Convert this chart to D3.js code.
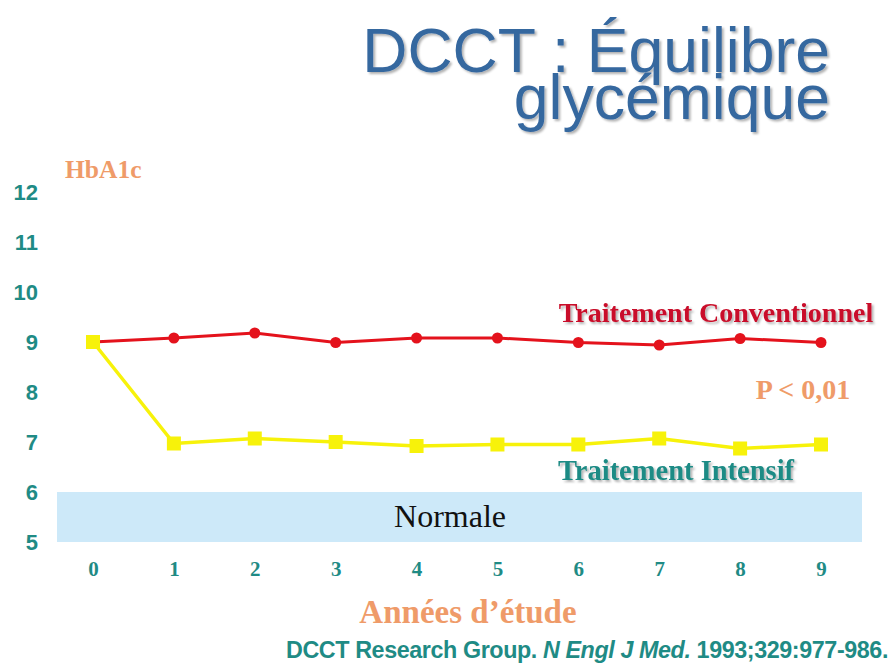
<!DOCTYPE html>
<html>
<head>
<meta charset="utf-8">
<script src="https://cdn.jsdelivr.net/npm/d3@7"></script>
<style>
  body { margin: 0; background: #fff; }
  svg { display: block; }
</style>
</head>
<body>
<div id="chart"></div>
<script>
// data
let years = [0, 1, 2, 3, 4, 5, 6, 7, 8, 9]
let conventionnel = [9.0, 9.08, 9.18, 8.99, 9.08, 9.08, 8.99, 8.94, 9.07, 8.99]
let intensif = [9.0, 6.97, 7.07, 7.0, 6.92, 6.95, 6.95, 7.07, 6.87, 6.95]
let yTicks = [5, 6, 7, 8, 9, 10, 11, 12]
let normalRange = [5, 6]

let width = 893
let height = 665

let teal = '#1f8b85'
let orange = '#ef9b69'

let svg = d3.select('#chart')
  .append('svg')
  .attr('width', width)
  .attr('height', height)

let defs = svg.append('defs')
let shadow = defs.append('filter').attr('id', 'shadow')
  .attr('x', '-5%').attr('y', '-5%').attr('width', '110%').attr('height', '120%')
shadow.append('feDropShadow')
  .attr('dx', 2).attr('dy', 2).attr('stdDeviation', 1.2)
  .attr('flood-color', '#000').attr('flood-opacity', 0.3)

let xScale = d3.scaleLinear().domain([0, 9]).range([93, 821])
let yScale = d3.scaleLinear().domain([5, 12]).range([542, 192])

// title
let title = svg.append('g')
  .attr('font-family', 'Liberation Sans, Arial, sans-serif')
  .attr('font-size', 62.5)
  .attr('fill', '#36679f')
  .attr('text-anchor', 'end')
  .attr('filter', 'url(#shadow)')
title.append('text').attr('x', 830).attr('y', 72).text('DCCT : Équilibre')
title.append('text').attr('x', 830).attr('y', 119).text('glycémique')

// normal band
svg.append('rect')
  .attr('x', 57)
  .attr('width', 862 - 57)
  .attr('y', yScale(normalRange[1]))
  .attr('height', yScale(normalRange[0]) - yScale(normalRange[1]))
  .attr('fill', '#cde9f9')

svg.append('text')
  .attr('x', 450)
  .attr('y', 527)
  .attr('text-anchor', 'middle')
  .attr('font-family', 'Liberation Serif, Times New Roman, serif')
  .attr('font-size', 32)
  .attr('fill', '#111')
  .text('Normale')

// y axis
let yAxis = d3.axisLeft(yScale).tickValues(yTicks).tickFormat(d3.format('d')).tickSize(0).tickPadding(0)
let yg = svg.append('g')
  .attr('transform', 'translate(38,0)')
  .call(yAxis)
yg.select('.domain').remove()
yg.selectAll('text')
  .attr('font-family', 'Liberation Sans, Arial, sans-serif')
  .attr('font-weight', 'bold')
  .attr('font-size', 22)
  .attr('fill', teal)

// x axis
let xAxis = d3.axisBottom(xScale).tickValues(years).tickSize(0).tickPadding(0)
let xg = svg.append('g')
  .attr('transform', 'translate(0,576)')
  .call(xAxis)
xg.select('.domain').remove()
xg.selectAll('text')
  .attr('dy', 0)
  .attr('font-family', 'Liberation Serif, Times New Roman, serif')
  .attr('font-weight', 'bold')
  .attr('font-size', 21)
  .attr('fill', teal)

// axis titles
svg.append('text')
  .attr('x', 65)
  .attr('y', 178)
  .attr('font-family', 'Liberation Serif, Times New Roman, serif')
  .attr('font-weight', 'bold')
  .attr('font-size', 25.5)
  .attr('fill', orange)
  .text('HbA1c')

svg.append('text')
  .attr('x', 468)
  .attr('y', 623)
  .attr('text-anchor', 'middle')
  .attr('font-family', 'Liberation Serif, Times New Roman, serif')
  .attr('font-weight', 'bold')
  .attr('font-size', 33)
  .attr('fill', orange)
  .text('Années d’étude')

// lines
let line = d3.line()
  .x((d, i) => xScale(years[i]))
  .y(d => yScale(d))

svg.append('path')
  .datum(intensif)
  .attr('d', line)
  .attr('fill', 'none')
  .attr('stroke', '#f7f20a')
  .attr('stroke-width', 3.5)

svg.append('path')
  .datum(conventionnel)
  .attr('d', line)
  .attr('fill', 'none')
  .attr('stroke', '#e4121c')
  .attr('stroke-width', 3)

svg.selectAll('.conv')
  .data(conventionnel)
  .enter()
  .append('circle')
  .attr('class', 'conv')
  .attr('cx', (d, i) => xScale(years[i]))
  .attr('cy', d => yScale(d))
  .attr('r', 5.5)
  .attr('fill', '#e4121c')

svg.selectAll('.int')
  .data(intensif)
  .enter()
  .append('rect')
  .attr('class', 'int')
  .attr('x', (d, i) => xScale(years[i]) - 7)
  .attr('y', d => yScale(d) - 7)
  .attr('width', 14)
  .attr('height', 14)
  .attr('fill', '#f7f20a')

// series labels
let labels = svg.append('g')
  .attr('font-family', 'Liberation Serif, Times New Roman, serif')
  .attr('font-weight', 'bold')
  .attr('font-size', 28)
  .attr('filter', 'url(#shadow)')

labels.append('text')
  .attr('x', 716)
  .attr('y', 322)
  .attr('text-anchor', 'middle')
  .attr('fill', '#c9102b')
  .text('Traitement Conventionnel')

labels.append('text')
  .attr('x', 676)
  .attr('y', 480)
  .attr('text-anchor', 'middle')
  .attr('font-size', 28.5)
  .attr('fill', teal)
  .text('Traitement Intensif')

svg.append('text')
  .attr('x', 803)
  .attr('y', 399)
  .attr('text-anchor', 'middle')
  .attr('font-family', 'Liberation Serif, Times New Roman, serif')
  .attr('font-weight', 'bold')
  .attr('font-size', 28)
  .attr('fill', orange)
  .text('P < 0,01')

// citation
let cite = svg.append('text')
  .attr('x', 888)
  .attr('y', 658)
  .attr('text-anchor', 'end')
  .attr('font-family', 'Liberation Sans, Arial, sans-serif')
  .attr('font-weight', 'bold')
  .attr('font-size', 23.3)
  .attr('letter-spacing', -0.4)
  .attr('fill', teal)
cite.append('tspan').text('DCCT Research Group. ')
cite.append('tspan').attr('font-style', 'italic').text('N Engl J Med.')
cite.append('tspan').text(' 1993;329:977-986.')
</script>
</body>
</html>
